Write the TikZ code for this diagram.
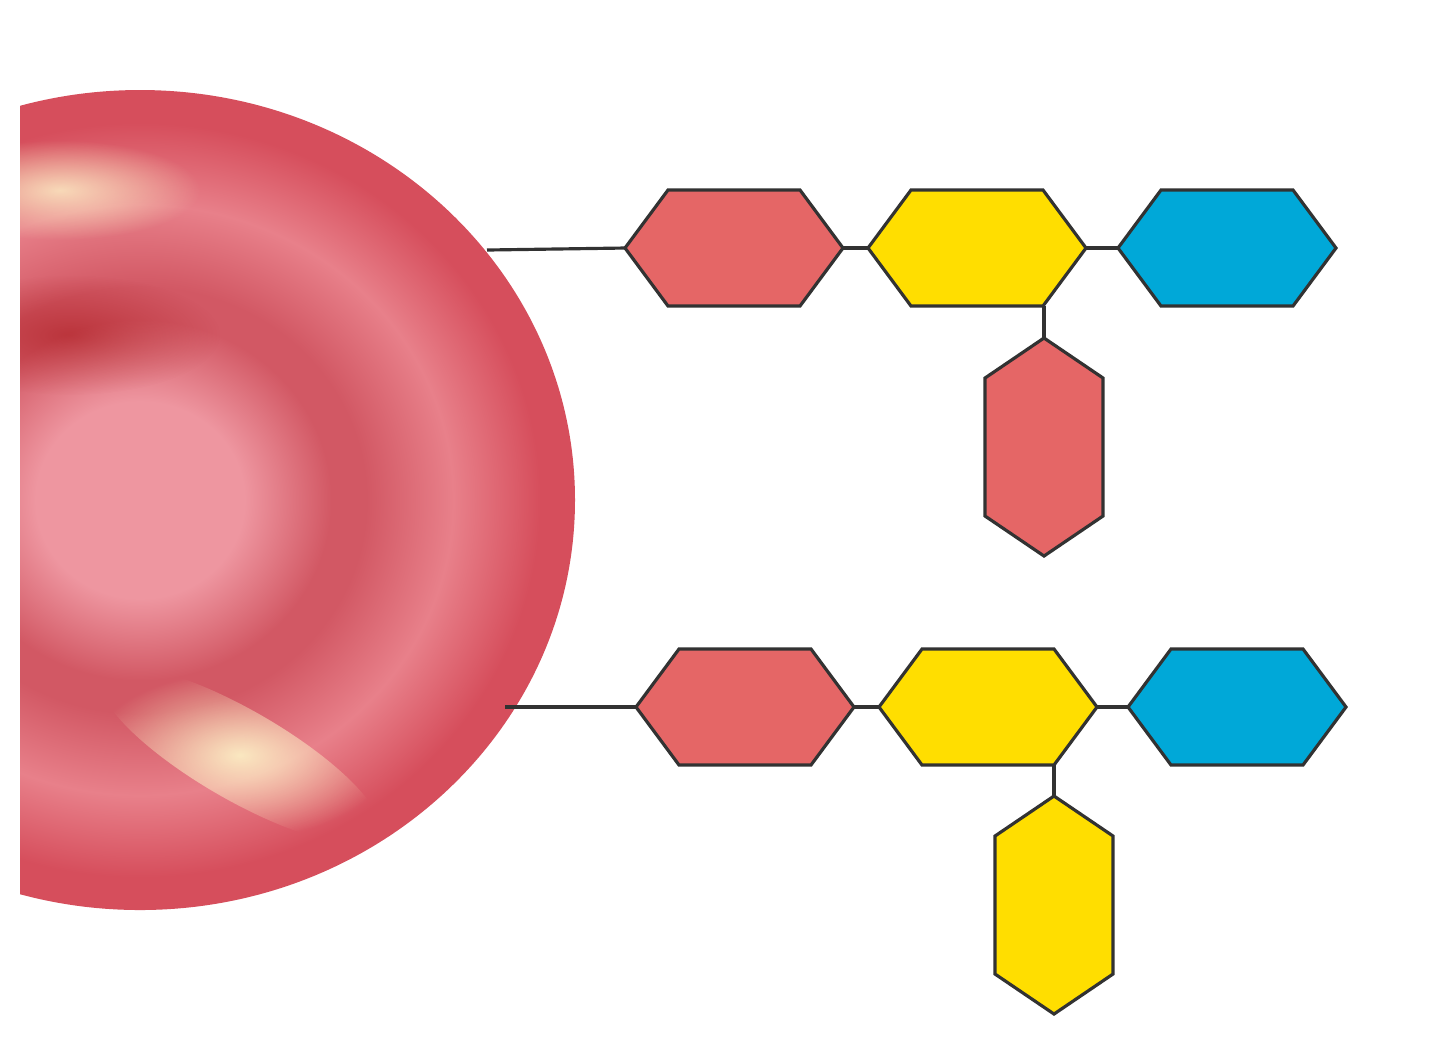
\documentclass[tikz,border=0pt]{standalone}
\usetikzlibrary{fadings}
\definecolor{hred}{RGB}{229,102,102}
\definecolor{hyel}{RGB}{255,222,0}
\definecolor{hblu}{RGB}{0,168,216}
\definecolor{lk}{RGB}{50,50,50}
\definecolor{cin}{RGB}{238,150,160}
\definecolor{cring}{RGB}{210,88,100}
\definecolor{clight}{RGB}{232,128,138}
\definecolor{cedge}{RGB}{214,78,92}
\pgfdeclareradialshading{cellsh}{\pgfpoint{0bp}{0bp}}{color(0bp)=(cin);color(6bp)=(cin);color(11bp)=(cring);color(13bp)=(cring);color(18bp)=(clight);color(23bp)=(cedge);color(25bp)=(cedge);color(50bp)=(cedge)}
\tikzfading[name=softc, inner color=transparent!0, outer color=transparent!100]
\tikzset{hexo/.style={draw=lk,line width=0.9pt,line join=miter},link/.style={draw=lk,line width=0.9pt}}
\newcommand{\hexH}[4]{%
  \path[hexo,fill=#4] (#2-109,#3) -- (#2-66,#3-58) -- (#2+66,#3-58) -- (#2+109,#3) -- (#2+66,#3+58) -- (#2-66,#3+58) -- cycle;
  \coordinate (#1-w) at (#2-109,#3); \coordinate (#1-e) at (#2+109,#3);}
\newcommand{\hexV}[4]{%
  \path[hexo,fill=#4] (#2,#3-109) -- (#2+59,#3-69) -- (#2+59,#3+69) -- (#2,#3+109) -- (#2-59,#3+69) -- (#2-59,#3-69) -- cycle;
  \coordinate (#1-n) at (#2,#3-109);}
\begin{document}
\begin{tikzpicture}[x=0.01cm,y=-0.01cm]
\useasboundingbox (0,0) rectangle (1440,1041);
\fill[white] (0,0) rectangle (1440,1041);
\begin{scope}
\clip (20,0) rectangle (1000,1041);
\clip (140,500) ellipse [x radius=435,y radius=410];
\shade[shading=cellsh] (140,500) ellipse [x radius=435,y radius=410];
\fill[black!40!red,path fading=softc,opacity=0.4] (70,335) ellipse [x radius=150,y radius=60];
\fill[white!80!yellow,path fading=softc,opacity=0.85,rotate around={-30:(240,755)}] (240,755) ellipse [x radius=160,y radius=45];
\fill[white!80!yellow,path fading=softc,opacity=0.75] (60,190) ellipse [x radius=140,y radius=50];
\end{scope}
\coordinate (c1) at (487,250);
\coordinate (c2) at (505,707);
\hexH{a1}{734}{248}{hred}
\hexH{a2}{977}{248}{hyel}
\hexH{a3}{1227}{248}{hblu}
\hexV{a4}{1044}{447}{hred}
\draw[link] (c1) -- (a1-w);
\draw[link] (a1-e) -- (a2-w);
\draw[link] (a2-e) -- (a3-w);
\draw[link] (1044,306) -- (a4-n);
\hexH{b1}{745}{707}{hred}
\hexH{b2}{988}{707}{hyel}
\hexH{b3}{1237}{707}{hblu}
\hexV{b4}{1054}{905}{hyel}
\draw[link] (c2) -- (b1-w);
\draw[link] (b1-e) -- (b2-w);
\draw[link] (b2-e) -- (b3-w);
\draw[link] (1054,765) -- (b4-n);
\end{tikzpicture}
\end{document}
